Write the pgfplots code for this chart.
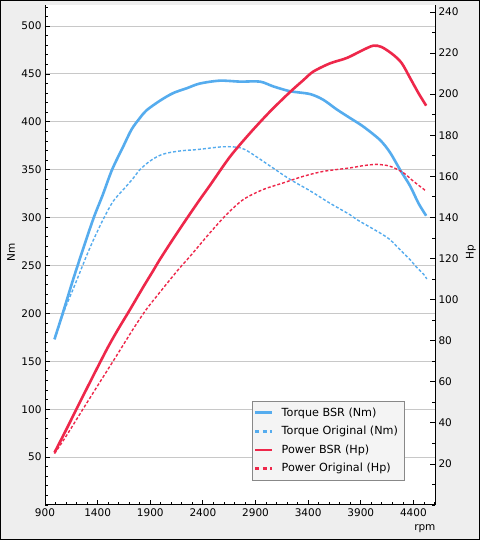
\documentclass[border=0pt]{standalone}
\usepackage{pgfplots}
\pgfplotsset{compat=1.18}
\usepackage{fontspec}
\setmainfont{DejaVu Sans}

\definecolor{bsrblue}{RGB}{85,172,238}
\definecolor{bsrred}{RGB}{238,39,74}
\definecolor{bggray}{RGB}{238,238,238}
\definecolor{gridgray}{RGB}{200,200,200}
\definecolor{legfill}{RGB}{244,244,244}
\definecolor{legdraw}{RGB}{136,136,136}

\pgfplotsset{
  dyno/.style={
    at={(45pt,35pt)}, anchor=south west,
    scale only axis, width=390pt, height=500pt,
    xmin=900, xmax=4605, ymin=0,
    axis line style={-, black, line width=1pt},
    tick style={black, line width=0.8pt},
    tick align=inside,
    major tick length=5pt, minor tick length=3pt,
    tick label style={font=\fontsize{10.5}{12}\selectfont},
    label style={font=\fontsize{10.5}{12}\selectfont},
    /pgf/number format/assume math mode=true,
    /pgf/number format/1000 sep={},
  },
  solidline/.style={line width=2.6pt, smooth},
  dashline/.style={line width=1.4pt, smooth, dash pattern=on 3pt off 2pt},
}

\begin{document}
\begin{tikzpicture}[x=1pt,y=1pt]
\fill[bggray] (0,0) rectangle (480,540);
\fill[white] (45,35) rectangle (435,535);
\draw[black, line width=1pt] (0.5,0.5) rectangle (479.5,539.5);

% torque, left axis
\begin{axis}[dyno,
  ymax=522,
  axis x line*=bottom, axis y line*=left,
  xtick={900,1400,...,4400}, minor xtick={1000,1100,...,4600},
  ytick={50,100,...,500}, minor ytick={0,10,...,520},
  ymajorgrids, major grid style={gridgray, line width=1pt},
  xlabel={rpm}, ylabel={Nm},
  xlabel style={at={(axis description cs:0.974,0)}, anchor=center, yshift=-24pt},
  ylabel style={at={(axis description cs:-0.087,0.506)}, anchor=center},
]
% Torque BSR
\addplot[bsrblue, solidline] coordinates {
(990,173) (1071,201) (1166,235) (1261,267) (1363,300) (1446,323) (1537,350)
(1642,374) (1722,392) (1801,404) (1864,412) (1991,422) (2117,430) (2245,435)
(2371,440) (2562,443) (2752,442) (2942,442) (3069,437) (3227,432) (3418,429)
(3544,423) (3671,413) (3798,404) (3925,395) (4083,381) (4178,368) (4273,350)
(4369,333) (4448,315) (4521,302)
};
% Torque Original
\addplot[bsrblue, dashline] coordinates {
(990,173) (1087,204) (1166,225) (1261,251) (1294,260) (1357,276) (1452,298)
(1547,317) (1642,329) (1737,341) (1801,350) (1896,359) (1991,365) (2086,368)
(2213,370) (2340,371) (2593,374) (2752,373) (2847,368) (3037,354) (3227,340)
(3418,328) (3608,315) (3798,303) (3862,298) (4083,284) (4178,277) (4242,270)
(4305,263) (4369,256) (4432,248) (4496,241) (4527,236)
};
\end{axis}

% power, right axis
\begin{axis}[dyno,
  ymax=243.4,
  axis x line=none, axis y line*=right,
  ytick={20,40,...,240}, minor ytick={0,10,...,240},
  ylabel={Hp},
  ylabel style={at={(axis description cs:1.092,0.506)}, anchor=center},
  legend cell align=left,
  legend style={at={(0.530,0.2086)}, anchor=north west,
    fill=legfill, draw=legdraw, line width=0.8pt,
    font=\fontsize{11.2}{13}\selectfont,
    inner xsep=2pt, inner ysep=4.5pt, row sep=4.6pt, column sep=4pt,
    nodes={inner xsep=4pt}},
  legend image code/.code={\draw[#1] (0pt,0pt) -- (17pt,0pt);},
]
\addlegendimage{bsrblue, line width=2.6pt}
\addlegendentry{Torque BSR (Nm)}
\addlegendimage{bsrblue, line width=2.6pt, dash pattern=on 4pt off 3.5pt}
\addlegendentry{Torque Original (Nm)}
\addlegendimage{bsrred, line width=2.6pt}
\addlegendentry{Power BSR (Hp)}
\addlegendimage{bsrred, line width=2.6pt, dash pattern=on 4pt off 3.5pt}
\addlegendentry{Power Original (Hp)}
% Power BSR
\addplot[bsrred, solidline, forget plot] coordinates {
(990,25.5) (1100,36.5) (1199,46.7) (1300,57) (1404,67.5) (1500,77) (1600,86)
(1706,95) (1832,106) (1927,114) (1991,119.5) (2117,129.5) (2245,139.3)
(2371,148.7) (2467,155.6) (2657,169.5) (2847,181) (3037,191.5) (3227,201)
(3354,206.8) (3449,211) (3608,215) (3767,217.6) (3925,221.6) (4020,223.6)
(4100,222.9) (4210,219.1) (4290,215) (4369,207.8) (4448,200.5) (4521,194.4)
};
% Power Original
\addplot[bsrred, dashline, forget plot] coordinates {
(990,25) (1103,33.7) (1261,46.7) (1420,59.7) (1579,72.6) (1737,85.6)
(1864,95.3) (2022,105.5) (2165,114.5) (2277,121) (2467,132.5) (2625,141.4)
(2784,148.7) (2974,153.6) (3164,156.8) (3354,160) (3544,162.4) (3798,164.1)
(3925,165.2) (4052,165.8) (4178,164.9) (4305,161.7) (4400,157.6) (4511,153.2)
};
\end{axis}
\end{tikzpicture}
\end{document}
